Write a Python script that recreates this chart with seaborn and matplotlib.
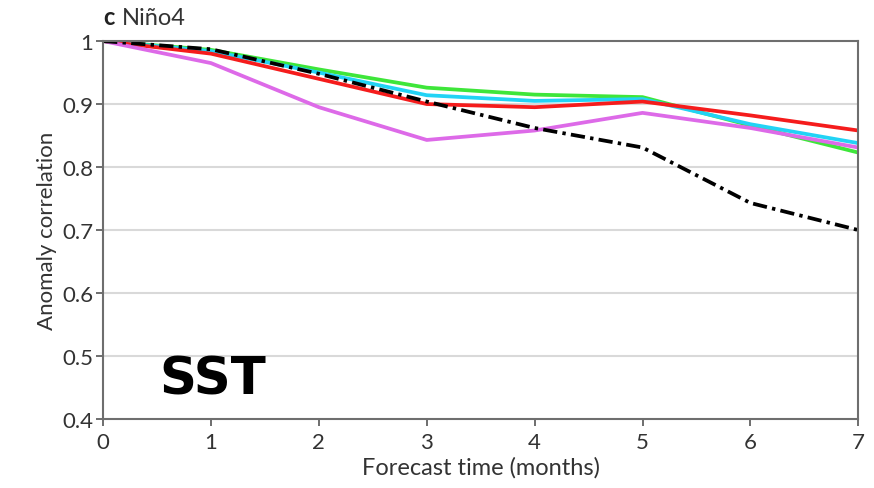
import numpy as np
import pandas as pd
import seaborn as sns
import matplotlib.pyplot as plt

# forecast lead (months)
lead = [0, 1, 2, 3, 4, 5, 6, 7]

# anomaly correlation per model
green = [1.0, 0.986, 0.955, 0.926, 0.915, 0.911, 0.866, 0.823]
cyan = [1.0, 0.984, 0.950, 0.914, 0.905, 0.908, 0.868, 0.838]
red = [1.0, 0.980, 0.940, 0.900, 0.895, 0.904, 0.882, 0.858]
magenta = [1.0, 0.965, 0.895, 0.843, 0.858, 0.886, 0.862, 0.831]
persistence = [1.0, 0.987, 0.948, 0.904, 0.862, 0.831, 0.743, 0.700]

df = pd.DataFrame({
    'lead': lead * 5,
    'corr': green + cyan + red + magenta + persistence,
    'model': ['green'] * 8 + ['cyan'] * 8 + ['red'] * 8 + ['magenta'] * 8 + ['persistence'] * 8,
})

sns.set_style('white')
plt.rcParams['font.family'] = ['Lato', 'DejaVu Sans']

fig = plt.figure(figsize=(8.74, 4.89), dpi=100)
ax = fig.add_axes([0.118, 0.141, 0.864, 0.773])

for y in [0.5, 0.6, 0.7, 0.8, 0.9]:
    ax.axhline(y, color='#d9d9d9', lw=1.5, zorder=0)

palette = {'green': '#3ee63a', 'cyan': '#22d3f5', 'red': '#f51c1c',
           'magenta': '#dd6ae8', 'persistence': 'black'}
for name in ['green', 'cyan', 'red', 'magenta']:
    sns.lineplot(data=df[df.model == name], x='lead', y='corr', color=palette[name],
                 lw=2.7, ax=ax, legend=False)
sns.lineplot(data=df[df.model == 'persistence'], x='lead', y='corr', color='black',
             lw=2.7, ax=ax, legend=False)
ax.lines[-1].set_dashes([3.8, 1.4, 0.9, 1.4])

ax.set_xlim(0, 7)
ax.set_ylim(0.4, 1.0)
ax.set_xticks(range(8))
ax.set_yticks([0.4, 0.5, 0.6, 0.7, 0.8, 0.9, 1.0])
ax.set_yticklabels(['0.4', '0.5', '0.6', '0.7', '0.8', '0.9', '1'])
ax.tick_params(axis='both', direction='out', length=5, width=1.2, colors='#555555',
               labelsize=16, labelcolor='#333333', left=True, bottom=True, pad=2)
ax.tick_params(axis='x', pad=4)
for s in ax.spines.values():
    s.set_color('#6e6e6e')
    s.set_linewidth(1.5)

ax.set_xlabel('Forecast time (months)', fontsize=17, color='#333333', labelpad=3)
ax.set_ylabel('Anomaly correlation', fontsize=16, color='#333333', labelpad=4)

fig.text(0.118, 0.94, 'c', fontsize=17, fontweight='bold', color='#222222', va='bottom')
fig.text(0.140, 0.94, 'Niño4', fontsize=17, color='#333333', va='bottom')
ax.text(0.074, 0.105, 'SST', fontsize=37, fontweight='bold', color='black',
        family='DejaVu Sans', ha='left', va='center', transform=ax.transAxes)

fig.savefig('out.png', dpi=100)
